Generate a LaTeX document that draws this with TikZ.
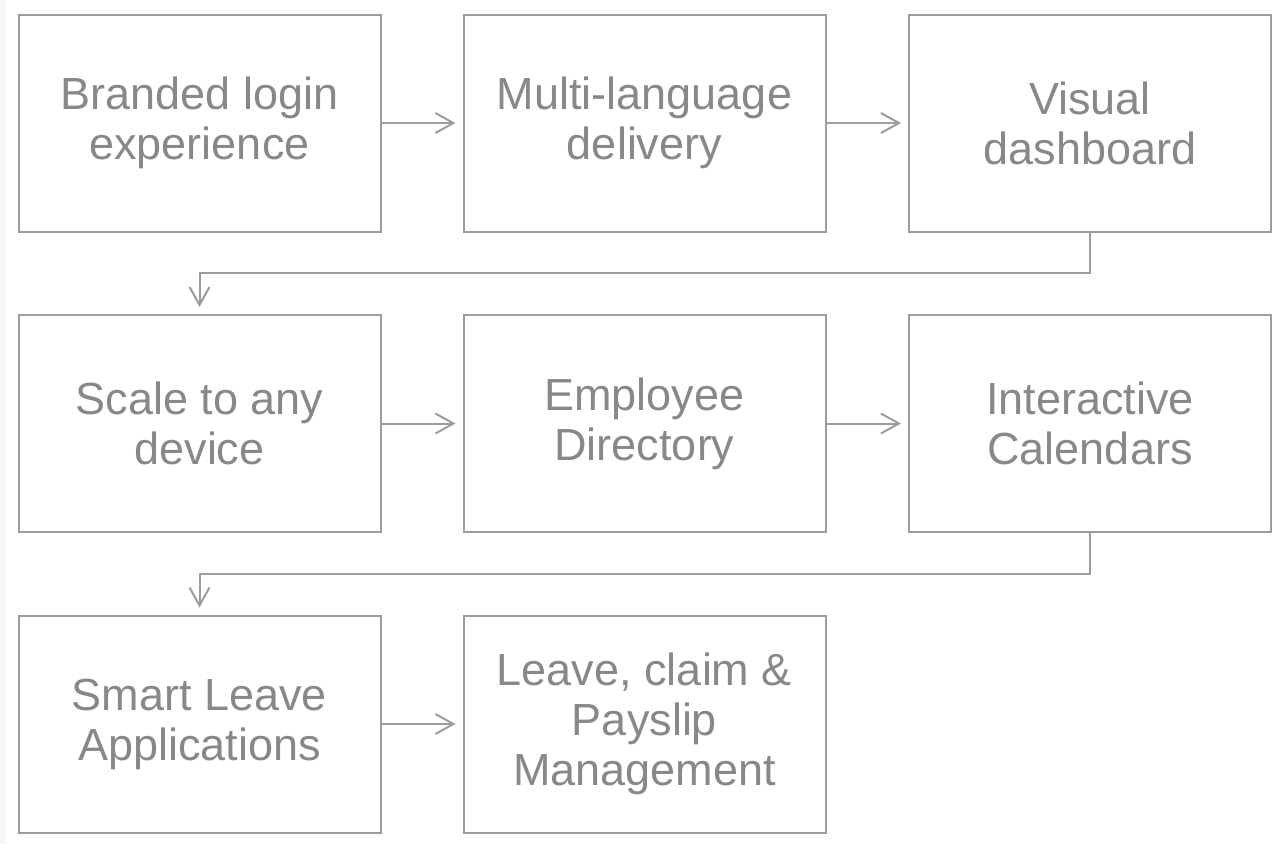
\documentclass[tikz,border=0pt]{standalone}
\usepackage{fontspec}
\setmainfont{Liberation Sans}
\usetikzlibrary{arrows.meta}
\definecolor{linec}{HTML}{9C9C9C}
\definecolor{textc}{HTML}{8A8886}
\definecolor{stripc}{HTML}{F6F6F6}
\begin{document}
\begin{tikzpicture}[x=1pt,y=-1pt,
  box/.style={draw=linec,line width=2pt,minimum width=362pt,minimum height=217pt,
    inner sep=0pt,align=center,text=textc,font=\fontsize{45}{50}\selectfont},
  conn/.style={draw=linec,line width=2pt,-{Straight Barb[length=18pt,width=20pt,line width=2pt]},shorten >=7pt}]
\useasboundingbox (0,0) rectangle (1281,844);
\fill[stripc] (0,0) rectangle (6,844);
\node[box] (b1) at (199.5,123) {Branded login\\experience};
\node[box] (b2) at (644.5,123) {Multi-language\\delivery};
\node[box] (b3) at (1090,123) {Visual\\dashboard};
\node[box] (b4) at (199.5,423.5) {Scale to any\\device};
\node[box] (b5) at (644.5,423.5) {Employee\\Directory};
\node[box] (b6) at (1090,423.5) {Interactive\\Calendars};
\node[box] (b7) at (199.5,724) {Smart Leave\\Applications};
\node[box] (b8) at (644.5,724) {Leave, claim \&\\Payslip\\Management};
\draw[conn] (b1) -- (b2);
\draw[conn] (b2) -- (b3);
\draw[conn] (b4) -- (b5);
\draw[conn] (b5) -- (b6);
\draw[conn] (b7) -- (b8);
\draw[conn] (b3.south) -- ++(0,40) -| (b4.north);
\draw[conn] (b6.south) -- ++(0,41) -| (b7.north);
\end{tikzpicture}
\end{document}
